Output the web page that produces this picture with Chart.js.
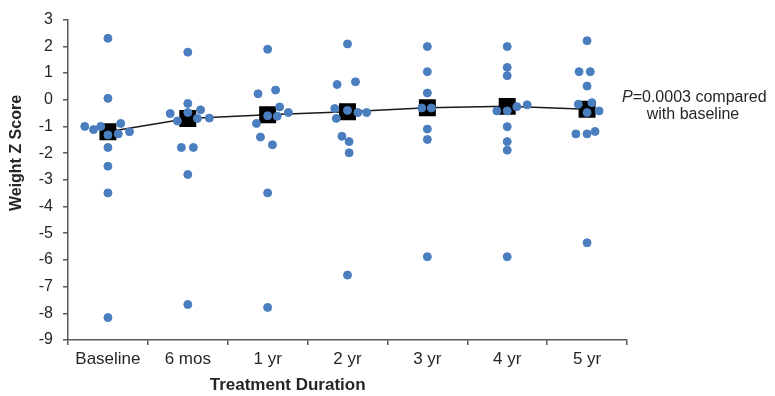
<!DOCTYPE html>
<html>
<head>
<meta charset="utf-8">
<script src="https://cdn.jsdelivr.net/npm/chart.js@4.4.1/dist/chart.umd.min.js"></script>
<style>
  html, body { margin: 0; padding: 0; background: #fff; }
</style>
</head>
<body>
<canvas id="chart" width="775" height="396"></canvas>
<script>
const durations = ["Baseline", "6 mos", "1 yr", "2 yr", "3 yr", "4 yr", "5 yr"];
const yMin = -9;
const yMax = 3;

// mean weight z score per visit (black squares)
const meanScores = [-1.2, -0.7, -0.56, -0.45, -0.3, -0.25, -0.36];

// individual patients; spread = sideways jitter as a fraction of one category
const baselineScores = [2.3, 0.05, -1.0, -1.12, -1.0, -1.32, -1.28, -0.89, -1.2, -1.79, -2.49, -3.49, -8.16];
const baselineSpread = [0, 0, -0.29, -0.18, -0.09, 0, 0.13, 0.16, 0.27, 0, 0, 0, 0];
const sixMosScores = [1.78, -0.14, -0.52, -0.8, -0.48, -0.38, -0.7, -0.69, -1.79, -1.79, -2.8, -7.67];
const sixMosSpread = [0, 0, -0.22, -0.13, 0, 0.16, 0.12, 0.27, -0.08, 0.07, 0, 0];
const oneYrScores = [1.89, 0.22, 0.36, -0.27, -0.48, -0.6, -0.62, -0.89, -1.4, -1.69, -3.49, -7.78];
const oneYrSpread = [0, -0.12, 0.1, 0.15, 0.26, 0, 0.12, -0.14, -0.09, 0.06, 0, 0];
const twoYrScores = [2.09, 0.57, 0.67, -0.33, -0.4, -0.48, -0.48, -0.7, -1.37, -1.57, -1.99, -6.57];
const twoYrSpread = [0, -0.13, 0.1, -0.16, 0, 0.13, 0.24, -0.14, -0.07, 0.02, 0.02, 0];
const threeYrScores = [1.99, 1.05, 0.25, -0.31, -0.31, -1.1, -1.49, -5.88];
const threeYrSpread = [0, 0, 0, -0.07, 0.05, 0, 0, 0];
const fourYrScores = [1.99, 1.21, 0.9, -0.42, -0.42, -0.26, -0.19, -1.01, -1.57, -1.89, -5.88];
const fourYrSpread = [0, 0, 0, -0.13, 0, 0.12, 0.25, 0, 0, 0, 0];
const fiveYrScores = [2.21, 1.05, 1.05, 0.51, -0.17, -0.11, -0.48, -0.42, -1.28, -1.28, -1.19, -5.36];
const fiveYrSpread = [0, -0.1, 0.04, 0, -0.11, 0.06, 0, 0.15, -0.14, 0, 0.1, 0];

const allScores = [baselineScores, sixMosScores, oneYrScores, twoYrScores, threeYrScores, fourYrScores, fiveYrScores];
const allSpread = [baselineSpread, sixMosSpread, oneYrSpread, twoYrSpread, threeYrSpread, fourYrSpread, fiveYrSpread];

const patientPoints = [];
allScores.forEach((scores, i) => {
    scores.forEach((v, j) => {
        patientPoints.push({ x: i + allSpread[i][j], y: v });
    });
});

const meanPoints = meanScores.map((v, i) => ({ x: i, y: v }));

const axisColor = "#595959";
const textColor = "#262626";
const fontFamily = "'Liberation Sans', Arial, sans-serif";

// axis titles and the p value note
const textPlugin = {
    id: "textPlugin",
    afterDraw(chart) {
        const ctx = chart.ctx;
        const xd = chart.scales.xd;
        ctx.save();
        ctx.fillStyle = textColor;
        ctx.textBaseline = "middle";
        ctx.textAlign = "center";

        ctx.font = "bold 17px " + fontFamily;
        ctx.fillText("Treatment Duration", xd.getPixelForValue(2.25), 385);

        ctx.save();
        ctx.translate(17, 153);
        ctx.rotate(-Math.PI / 2);
        ctx.font = "bold 16px " + fontFamily;
        ctx.fillText("Weight Z Score", 0, 0);
        ctx.restore();

        ctx.textAlign = "left";
        ctx.font = "italic 16px " + fontFamily;
        ctx.fillText("P", 622, 98);
        const pw = ctx.measureText("P").width;
        ctx.font = "16px " + fontFamily;
        ctx.fillText("=0.0003 compared", 622 + pw, 98);
        ctx.textAlign = "center";
        ctx.fillText("with baseline", 693, 115);
        ctx.restore();
    }
};

new Chart(document.getElementById("chart"), {
    type: "scatter",
    data: {
        datasets: [
            {
                label: "Patients",
                data: patientPoints,
                xAxisID: "xd",
                backgroundColor: "#4a7ebf",
                borderColor: "#4a7ebf",
                pointRadius: 4,
                pointHoverRadius: 4
            },
            {
                label: "Mean",
                data: meanPoints,
                xAxisID: "xd",
                showLine: true,
                borderColor: "#1a1a1a",
                borderWidth: 1.5,
                pointStyle: "rect",
                pointRadius: 12,
                pointHoverRadius: 12,
                pointBackgroundColor: "#000",
                pointBorderColor: "#000",
                pointBorderWidth: 0
            }
        ]
    },
    options: {
        responsive: false,
        devicePixelRatio: 1,
        animation: false,
        layout: { padding: { top: 16, right: 148, left: 0, bottom: 0 } },
        plugins: {
            legend: { display: false },
            tooltip: { enabled: false }
        },
        scales: {
            xd: {
                type: "linear",
                display: false,
                min: -0.5,
                max: 6.5
            },
            x: {
                type: "category",
                position: "bottom",
                labels: durations,
                offset: true,
                afterFit(scale) { scale.height = 56; },
                grid: {
                    offset: true,
                    drawOnChartArea: false,
                    tickLength: 5,
                    color: axisColor,
                    lineWidth: 1.5
                },
                border: { color: axisColor, width: 1.5 },
                ticks: {
                    color: textColor,
                    padding: 4,
                    font: { family: fontFamily, size: 17 }
                }
            },
            y: {
                min: yMin,
                max: yMax,
                afterFit(scale) { scale.width = 68; },
                grid: {
                    drawOnChartArea: false,
                    tickLength: 5,
                    color: axisColor,
                    lineWidth: 1.5
                },
                border: { color: axisColor, width: 1.5 },
                ticks: {
                    stepSize: 1,
                    color: textColor,
                    padding: 10,
                    font: { family: fontFamily, size: 16 }
                }
            }
        }
    },
    plugins: [textPlugin]
});
</script>
</body>
</html>
